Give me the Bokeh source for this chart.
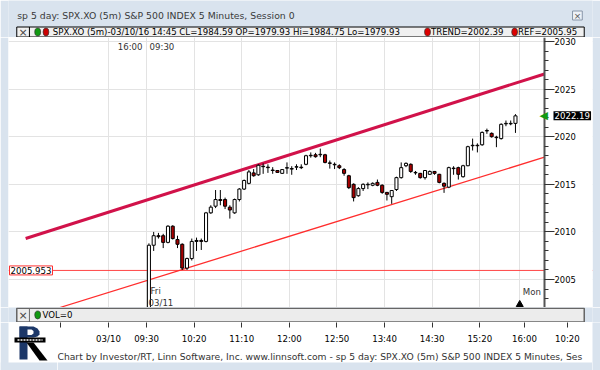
import numpy as np
from bokeh.plotting import figure
from bokeh.layouts import column, row
from bokeh.models import Range1d, FixedTicker, Label, Span, Grid, LinearAxis, BoxAnnotation
from bokeh.core.properties import value
from bokeh.embed import file_html
from bokeh.resources import INLINE

FONT = "DejaVu Sans"

# ---------------- texts ----------------
window_title = "sp 5 day: SPX.XO (5m) S&P 500 INDEX 5 Minutes, Session 0"
header_main = "SPX.XO (5m)-03/10/16 14:45 CL=1984.59 OP=1979.93 Hi=1984.75 Lo=1979.93"
header_trend = "TREND=2002.39"
header_ref = "REF=2005.95"
vol_text = "VOL=0"
# the footer is truncated by the window edge in the original
footer_text = ("Chart by Investor/RT, Linn Software, Inc. www.linnsoft.com - "
               "sp 5 day: SPX.XO (5m) S&P 500 INDEX 5 Minutes, Ses")

# ---------------- data (03/11 session, 5 minute bars from 09:30) ----------------
opens = [1994.71, 2008.60, 2009.60, 2009.60, 2008.90, 2010.60, 2009.20, 2008.70, 2006.20, 2007.20,
         2009.00, 2009.10, 2009.00, 2012.00, 2012.70, 2013.40, 2013.40, 2012.60, 2012.00, 2013.40,
         2014.50, 2015.10, 2016.20, 2016.00, 2016.90, 2016.80, 2016.50, 2016.45, 2016.15, 2016.70,
         2016.65, 2016.80, 2016.80, 2017.10, 2018.00, 2018.10, 2018.10, 2018.10, 2017.25, 2017.10,
         2016.95, 2016.55, 2015.90, 2015.00, 2013.80, 2014.55, 2014.95, 2014.90, 2015.20, 2014.90,
         2014.15, 2013.70, 2014.45, 2015.70, 2016.95, 2017.10, 2016.25, 2016.15, 2015.70, 2016.05,
         2016.35, 2016.05, 2015.10, 2014.70, 2016.70, 2016.75, 2015.80, 2016.95, 2019.05, 2019.10,
         2019.15, 2020.60, 2020.35, 2019.95, 2019.80, 2021.35, 2021.35, 2021.40]
highs = [2008.80, 2010.00, 2009.90, 2009.80, 2010.70, 2010.70, 2009.60, 2008.80, 2007.30, 2009.30,
         2009.40, 2009.30, 2012.10, 2012.80, 2014.40, 2014.40, 2013.60, 2012.80, 2013.50, 2014.60,
         2015.50, 2016.50, 2016.60, 2017.10, 2017.20, 2017.10, 2016.80, 2016.50, 2016.60, 2017.30,
         2016.90, 2017.10, 2017.10, 2018.10, 2018.35, 2018.30, 2018.75, 2018.20, 2017.50, 2017.30,
         2017.10, 2016.70, 2016.00, 2015.10, 2014.70, 2015.10, 2015.20, 2015.20, 2015.50, 2015.00,
         2014.20, 2014.40, 2015.80, 2017.30, 2017.30, 2017.20, 2016.40, 2016.20, 2016.50, 2016.45,
         2016.40, 2016.10, 2015.20, 2016.85, 2016.90, 2016.85, 2017.05, 2019.05, 2019.80, 2019.30,
         2020.55, 2020.85, 2020.45, 2020.10, 2021.40, 2021.70, 2021.70, 2022.37]
lows = [1994.71, 2008.00, 2009.30, 2008.30, 2008.80, 2009.20, 2008.30, 2006.00, 2006.00, 2007.00,
        2008.00, 2008.10, 2008.90, 2011.90, 2012.50, 2012.80, 2012.40, 2011.40, 2011.90, 2013.20,
        2014.40, 2015.00, 2015.80, 2015.90, 2016.10, 2016.20, 2016.10, 2016.20, 2016.10, 2016.10,
        2016.00, 2016.50, 2016.60, 2017.00, 2017.80, 2017.80, 2017.85, 2017.20, 2016.65, 2016.60,
        2016.60, 2015.90, 2014.50, 2013.20, 2013.70, 2014.30, 2014.50, 2014.80, 2014.80, 2014.00,
        2013.30, 2012.95, 2014.30, 2015.60, 2016.80, 2016.20, 2016.00, 2015.60, 2015.50, 2016.00,
        2016.00, 2015.10, 2014.10, 2014.60, 2016.00, 2015.50, 2015.70, 2016.90, 2018.55, 2018.35,
        2019.05, 2020.30, 2019.90, 2018.90, 2019.70, 2021.10, 2021.20, 2020.40]
closes = [2008.60, 2009.60, 2009.50, 2008.90, 2010.60, 2009.30, 2008.70, 2006.20, 2007.20, 2009.00,
          2009.10, 2009.00, 2012.00, 2012.60, 2013.40, 2013.30, 2012.70, 2012.30, 2013.40, 2014.50,
          2015.40, 2016.30, 2015.90, 2017.00, 2016.85, 2016.75, 2016.45, 2016.25, 2016.55, 2016.75,
          2016.60, 2016.85, 2016.75, 2018.00, 2018.05, 2017.90, 2018.15, 2017.30, 2017.20, 2017.05,
          2016.75, 2016.15, 2014.65, 2013.60, 2014.55, 2015.00, 2015.00, 2015.10, 2014.90, 2014.15,
          2013.95, 2014.35, 2015.70, 2016.75, 2017.20, 2016.35, 2016.20, 2015.70, 2016.45, 2016.35,
          2016.15, 2015.20, 2014.80, 2016.75, 2016.65, 2016.05, 2016.95, 2018.95, 2019.10, 2019.05,
          2020.45, 2020.65, 2020.00, 2019.90, 2021.30, 2021.40, 2021.40, 2022.19]

# x unit: session minutes since 03/11 09:30 (negative = 03/10)
bar_start_min = [5 * i for i in range(len(closes))]
x_tick_pos = [-90, -40, 0, 50, 100, 150, 200, 250, 300, 350, 397, 442]
x_tick_labels = ["", "03/10", "09:30", "10:20", "11:10", "12:00", "12:50", "13:40",
                 "14:30", "15:20", "16:00", "10:20"]
grid_x = [-40, 0, 50, 100, 150, 200, 250, 300, 350, 392]
session_start = [0, 392]
y_ticks = [2005, 2010, 2015, 2020, 2025, 2030]
y_minor = list(range(2002, 2031))
ref_level = 2005.953
ref_text = "2005.953"
upper_trend_x = [-127, 418]
upper_trend_y = [2009.31, 2026.59]
lower_trend_x = [-91, 418]
lower_trend_y = [2002.06, 2017.85]

# ---------------- layout constants ----------------
W = 600
EDGE = 8                      # window frame
PX0, PX1 = -145.0, 418.0      # x at chart left edge / at price axis
PY0, PY1 = 2002.06, 2030.42
AXIS_PX = 536                 # pixels from chart left to price axis
FH = 270
scale = AXIS_PX / (PX1 - PX0)
PXR = PX0 + (W - 2 * EDGE) / scale
BG = "#d9e3ee"
TXT = "#222222"


def ypix(py):
    """data y for a pixel offset from the top of the price frame"""
    return PY1 - py * (PY1 - PY0) / FH


def blank(w, h, xr, yr, bg, fill=None):
    f = figure(width=w, height=h, x_range=Range1d(*xr), y_range=Range1d(*yr),
               x_axis_location=None, y_axis_location=None, toolbar_location=None,
               output_backend="svg", min_border_left=0, min_border_right=0,
               min_border_top=0, min_border_bottom=0)
    f.grid.visible = False
    f.outline_line_color = None
    f.background_fill_color = fill or bg
    f.border_fill_color = bg
    return f


def txt(f, x, y, s, size="8.6px", color=TXT, align="left"):
    f.text(x=[x], y=[y], text=[s], text_font=value(FONT), text_font_size=size,
           text_color=color, text_align=align, text_baseline="middle")


# ---------------- top: window title + header bar ----------------
top = blank(W, 37, (0, W), (37, 0), BG)
txt(top, 9, 15, window_title, size="9.3px", color="#3a3a3a")
top.quad(left=579.5, right=589.5, top=10.5, bottom=19.5, fill_color="#eef2f7", line_color="#8795a8")
txt(top, 584.5, 15, "×", size="9px", color="#555555", align="center")
top.quad(left=8.5, right=591.5, top=26.5, bottom=36.5, fill_color="#f0f0f0", line_color="black")
top.segment(x0=[21.5], y0=[26.5], x1=[21.5], y1=[36.5], line_color="black")
txt(top, 15, 31.5, "×", size="11px", color="#444444", align="center")
top.ellipse(x=[30, 38.5, 430.5, 520], y=[31.5] * 4, width=6, height=8,
            fill_color=["#119911", "#cc0000", "#dd0000", "#dd0000"], line_color="#333333", line_width=0.7)
txt(top, 45.5, 31.8, header_main, color="black")
txt(top, 434, 31.8, header_trend, color="black")
txt(top, 523.5, 31.8, header_ref, color="black")

# ---------------- price panel ----------------
p = figure(width=W, height=FH, x_range=Range1d(PX0, PXR), y_range=Range1d(PY0, PY1),
           x_axis_location=None, y_axis_location=None, toolbar_location=None,
           output_backend="svg", min_border_left=EDGE, min_border_right=EDGE,
           min_border_top=0, min_border_bottom=0)
p.outline_line_color = None
p.background_fill_color = "white"
p.border_fill_color = BG
for g in p.grid:
    g.visible = False
p.add_layout(Grid(dimension=0, ticker=FixedTicker(ticks=grid_x), grid_line_color="#e3e3e3"), "center")
p.add_layout(Grid(dimension=1, ticker=FixedTicker(ticks=y_ticks), grid_line_color="#e3e3e3"), "center")
p.add_layout(Span(location=ref_level, dimension="width", line_color="#ff4545", line_width=1,
                  level="underlay"))
p.add_layout(BoxAnnotation(left=PX1, fill_color="white", fill_alpha=1.0, line_color=None,
                           level="underlay"))

yax = LinearAxis(fixed_location=PX1, ticker=FixedTicker(ticks=y_ticks, minor_ticks=y_minor))
yax.major_tick_in = 0
yax.major_tick_out = 10
yax.minor_tick_in = 0
yax.minor_tick_out = 4
yax.axis_line_color = "#555555"
yax.axis_line_width = 2
yax.major_tick_line_color = "#333333"
yax.minor_tick_line_color = "#333333"
yax.major_label_standoff = 0
yax.major_label_text_font = FONT
yax.major_label_text_font_size = "8.4px"
yax.major_label_text_color = "black"
p.add_layout(yax, "right")

p.line(upper_trend_x, upper_trend_y, line_color="#d1124a", line_width=3)
p.line(lower_trend_x, lower_trend_y, line_color="#ff2d2d", line_width=1.3)

o = np.array(opens)
c = np.array(closes)
xc = np.array(bar_start_min) + 2.5
body_top = np.maximum(o, c)
body_bot = np.minimum(o, c)
colors = ["white" if cc >= oo else "#a80000" for oo, cc in zip(opens, closes)]
p.segment(x0=xc, y0=highs, x1=xc, y1=lows, line_color="black", line_width=1)
p.vbar(x=xc, width=3.2, top=body_top, bottom=body_bot, fill_color=colors,
       line_color="black", line_width=1)

lab_kw = dict(text_font=FONT, text_font_size="8.6px", text_color="#333333", text_baseline="middle")
p.add_layout(Label(x=session_start[0], y=ypix(9.7), x_offset=-4, text="16:00", text_align="right", **lab_kw))
p.add_layout(Label(x=session_start[0], y=ypix(9.7), x_offset=3, text="09:30", **lab_kw))
p.add_layout(Label(x=session_start[0], y=ypix(253.5), x_offset=4, text="Fri", **lab_kw))
p.add_layout(Label(x=session_start[0], y=ypix(265.7), x_offset=2, text="03/11", **lab_kw))
p.add_layout(Label(x=session_start[1], y=ypix(254), x_offset=3, text="Mon", **lab_kw))
p.scatter(x=[session_start[1]], y=[ypix(267)], marker="triangle", size=7, color="black")

p.add_layout(Label(x=PX0, y=ref_level, x_offset=1, text=ref_text, text_font=FONT,
                   text_font_size="8.6px", text_color="black", text_baseline="middle",
                   background_fill_color="white", border_line_color="#ff3030", padding=1))
p.add_layout(Label(x=PX1, y=closes[-1], x_offset=-5, text="◀", text_font=FONT,
                   text_font_size="11px", text_color="#139a13", text_baseline="middle"))
p.add_layout(Label(x=PX1, y=closes[-1], x_offset=9, text=f"{closes[-1]:.2f}", text_font=FONT,
                   text_font_size="8.6px", text_color="white", text_baseline="middle",
                   background_fill_color="black", padding=1))

# ---------------- volume bar ----------------
vol = blank(W, 15, (0, W), (15, 0), BG)
vol.quad(left=8.5, right=591.5, top=0.8, bottom=14.5, fill_color="#ececec", line_color="#666666", line_width=1.5)
vol.segment(x0=[21.5], y0=[0.8], x1=[21.5], y1=[14.5], line_color="#666666")
txt(vol, 15, 7.5, "×", size="11px", color="#444444", align="center")
vol.ellipse(x=[30], y=[7.5], width=6, height=8, fill_color="#119911", line_color="#333333", line_width=0.7)
txt(vol, 35, 7.8, vol_text, color="black")

# ---------------- bottom: logo + time axis + footer ----------------
AX0 = PX0 + (57 - EDGE) / scale
AX1 = AX0 + 535 / scale
axf = figure(width=535, height=24, x_range=Range1d(AX0, AX1), y_range=Range1d(0, 1),
             x_axis_location="below", y_axis_location=None, toolbar_location=None,
             output_backend="svg", min_border_left=0, min_border_right=0,
             min_border_top=0, min_border_bottom=23)
axf.grid.visible = False
axf.outline_line_color = None
axf.background_fill_color = "white"
axf.border_fill_color = "white"
xax = axf.xaxis[0]
xax.ticker = FixedTicker(ticks=x_tick_pos)
xax.major_label_overrides = {t: s for t, s in zip(x_tick_pos, x_tick_labels)}
xax.axis_line_color = None
xax.major_tick_in = 0
xax.major_tick_out = 5
xax.minor_tick_line_color = None
xax.major_tick_line_color = "#333333"
xax.major_label_standoff = 6
xax.major_label_text_font = FONT
xax.major_label_text_font_size = "8.6px"
xax.major_label_text_color = "black"

foot = blank(535, 24, (0, 535), (24, 0), "white")
txt(foot, 0, 10, footer_text, size="9.2px", color="#333333")
foot.quad(left=0, right=535, top=16, bottom=24, fill_color=BG, line_color=None)

rstrip = blank(8, 48, (0, 8), (48, 0), BG)

logo = blank(57, 48, (0, 57), (48, 0), "white")
logo.quad(left=0, right=8, top=0, bottom=48, fill_color=BG, line_color=None)
logo.quad(left=0, right=57, top=40, bottom=48, fill_color=BG, line_color=None)
NAVY = "#1c3768"
logo.quad(left=19, right=27, top=4, bottom=37, fill_color=NAVY, line_color=None)
logo.patch([19, 33, 37, 39, 39, 37, 33, 19], [4, 4, 6, 9, 12, 14, 15, 15], fill_color=NAVY, line_color=None)
logo.patch([27, 31, 33, 33, 31, 27], [7, 7, 8.5, 11, 12.5, 12.5], fill_color="white", line_color=None)
logo.patch([26, 33, 47, 39], [20, 20, 38, 38], fill_color="black", line_color=None)
logo.quad(left=14, right=45, top=15, bottom=20, fill_color="black", line_color=None)
logo.segment(x0=[17], y0=[17.5], x1=[42], y1=[17.5], line_color="white", line_width=1.5, line_dash="2 1")

bottom = row(logo, column(axf, foot, spacing=0), rstrip, spacing=0)
layout = column(top, p, vol, bottom, spacing=0)

open("out.html", "w").write(file_html(layout, INLINE))
